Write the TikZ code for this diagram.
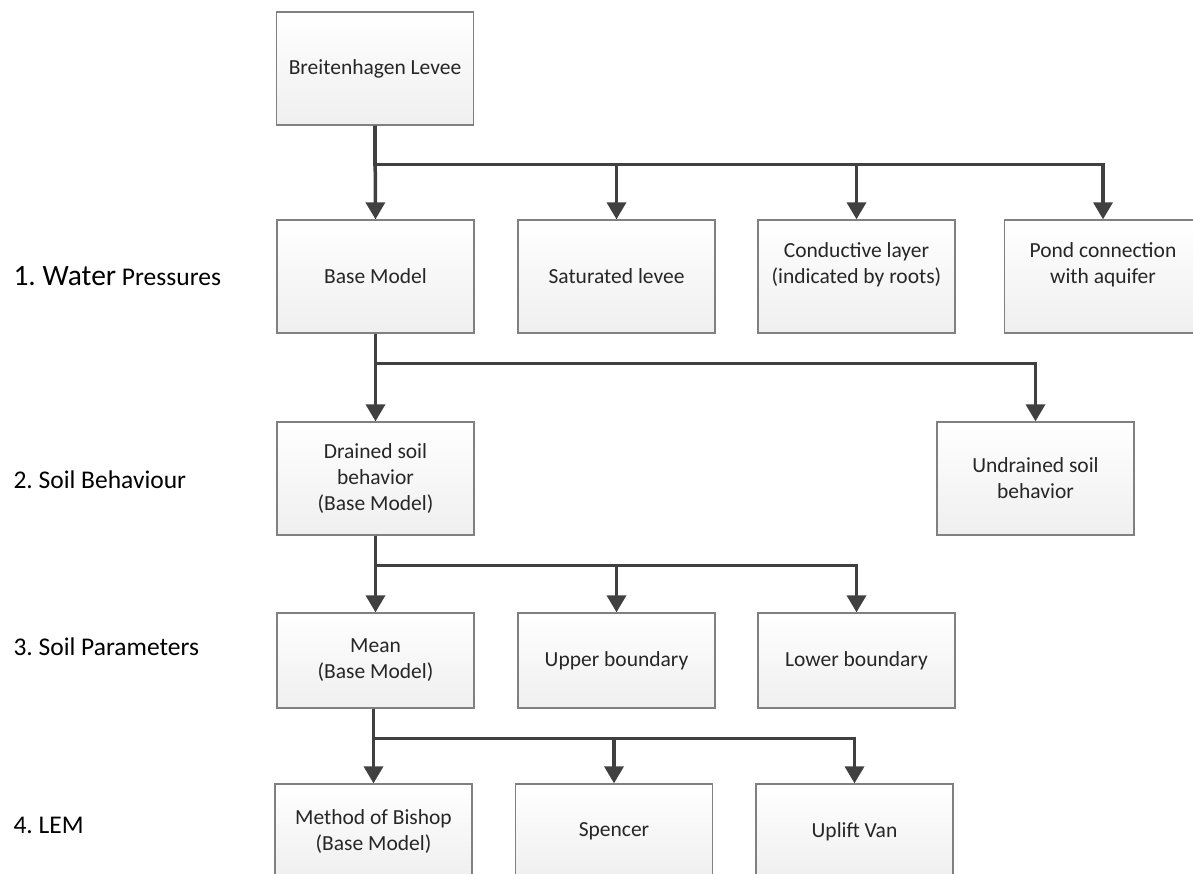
\documentclass[tikz,border=0pt]{standalone}
\usepackage{fontspec}
\setmainfont{Carlito}
\usepackage{tikz}
\usetikzlibrary{arrows.meta}
\usetikzlibrary{positioning}
\frenchspacing

\definecolor{linegray}{HTML}{404040}
\definecolor{boxgray}{HTML}{808080}
\definecolor{shadegray}{HTML}{EFEFEF}
\definecolor{textgray}{HTML}{262626}

\begin{document}
\begin{tikzpicture}[x=1pt,y=-1pt,
    box/.style={draw=boxgray, line width=1.3pt, top color=white, bottom color=shadegray,
      minimum width=197pt, align=center, text=textgray,
      font=\fontsize{21.5}{26}\selectfont},
    tall/.style={box, minimum height=113pt},
    flat/.style={box, minimum height=95pt},
    link/.style={draw=linegray, line width=3.5pt, -{Triangle[width=19pt,length=17pt]}},
    stage/.style={anchor=west, text=black, font=\fontsize{25.5}{30}\selectfont}]
  \clip (0,0) rectangle (1193,874);

  % Top of the tree
  \node[tall] (levee) at (375,68.5) {Breitenhagen Levee};

  % 1. Water pressures
  \node[tall] (base) at (375.5,276.5) {Base Model};
  \node[tall] (saturated) at (616.5,276.5) {Saturated levee};
  \node[tall] (conductive) at (856.5,276.5) {Conductive layer\\(indicated by roots)\\\mbox{}};
  \node[tall] (pond) at (1103,276.5) {Pond connection\\with aquifer\\\mbox{}};

  % 2. Soil behaviour
  \node[tall] (drained) at (375.5,478.5) {Drained soil\\behavior\\(Base Model)};
  \node[tall] (undrained) at (1035.5,478.5) {Undrained soil\\behavior};

  % 3. Soil parameters
  \node[flat] (mean) at (375.5,660.5) {Mean\\(Base Model)};
  \node[flat] (upper) at (616.5,660.5) {Upper boundary};
  \node[flat] (lower) at (856.5,660.5) {Lower boundary};

  % 4. LEM
  \node[flat] (bishop) at (373.5,831.5) {Method of Bishop\\(Base Model)};
  \node[flat] (spencer) at (614,831.5) {Spencer};
  \node[flat] (uplift) at (854.5,831.5) {Uplift Van};

  % Connectors
  \draw[link] (levee.south) -- (base.north);
  \foreach \n in {saturated,conductive,pond}
    \draw[link] (levee.south) -- ++(0,39) -| (\n.north);

  \draw[link] (base.south) -- (drained.north);
  \draw[link] (base.south) -- ++(0,30) -| (undrained.north);

  \draw[link] (drained.south) -- (mean.north);
  \foreach \n in {upper,lower}
    \draw[link] (drained.south) -- ++(0,30) -| (\n.north);

  \draw[link] (mean.south -| bishop.north) -- (bishop.north);
  \foreach \n in {spencer,uplift}
    \draw[link] (mean.south -| bishop.north) -- ++(0,30) -| (\n.north);

  % Stage labels
  \node[stage] (water) at (10,276) {{\fontsize{29.5}{35}\selectfont 1. Water} Pressures};
  \node[stage] (behaviour) at (10,480) {2. Soil Behaviour};
  \node[stage] (parameters) at (10,647) {3. Soil Parameters};
  \node[stage] (lem) at (10,825) {4. LEM};
\end{tikzpicture}
\end{document}
